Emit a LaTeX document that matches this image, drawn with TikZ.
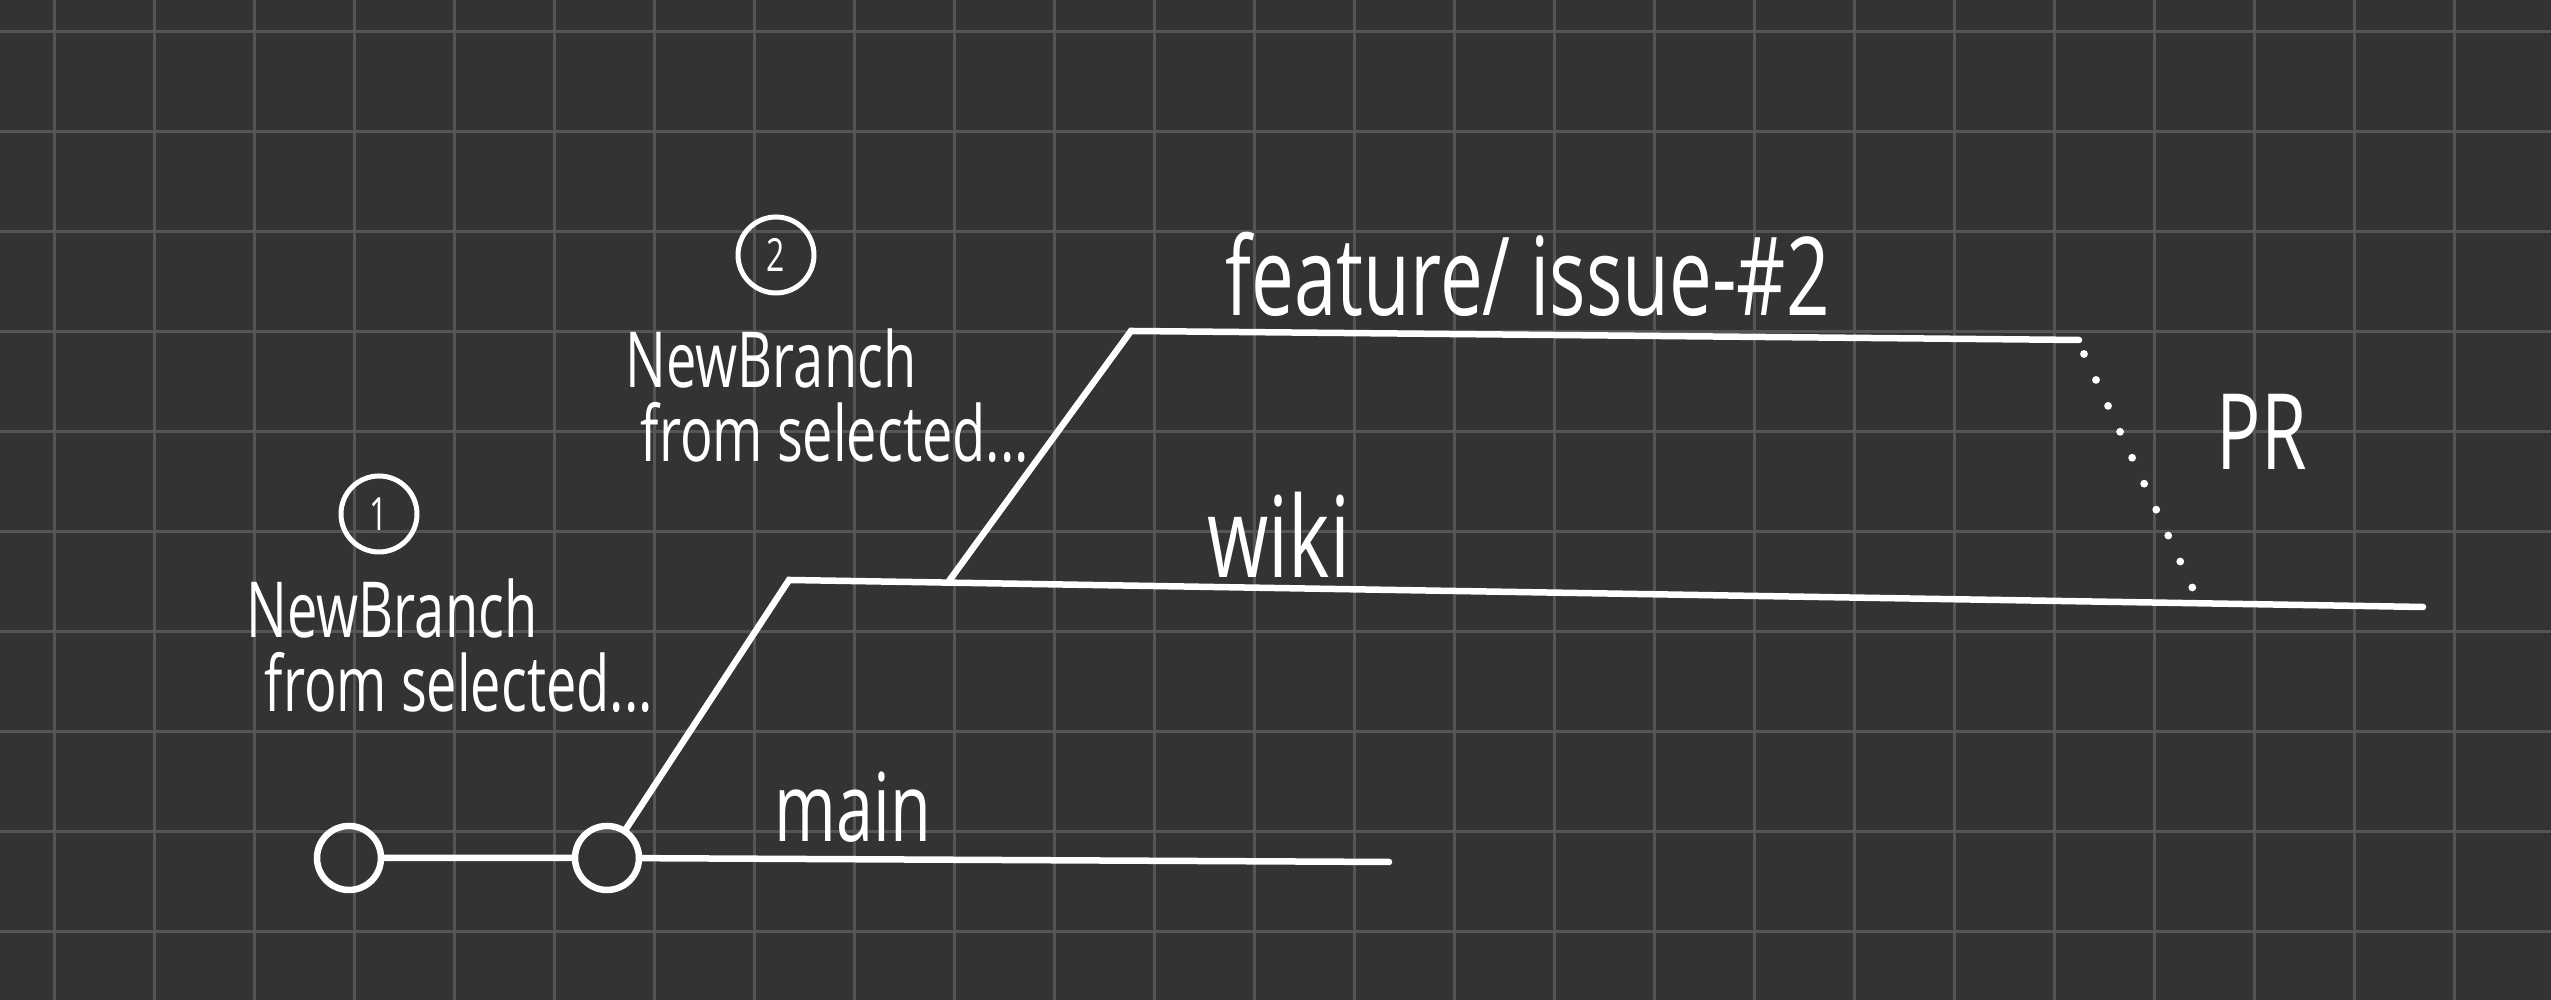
\documentclass[tikz,border=0pt]{standalone}
\usepackage{fontspec}
\usetikzlibrary{positioning}
\newfontfamily\handfont[FakeStretch=0.7]{Open Sans}
\definecolor{boardbg}{RGB}{51,51,51}
\definecolor{boardgrid}{RGB}{85,85,85}
\tikzset{
  gridline/.style={draw=boardgrid, line width=0.03cm},
  branch/.style={draw=white, line width=0.065cm, line cap=round},
  commit/.style={circle, draw=white, line width=0.065cm, minimum size=0.64cm, inner sep=0pt},
  stepmark/.style={circle, draw=white, line width=0.05cm, minimum size=0.76cm, inner sep=0pt, text=white, font={\handfont\fontsize{13}{15}\selectfont}},
  note/.style={text=white, inner sep=0pt, align=left, anchor=north west, font={\handfont\fontsize{22}{21}\selectfont}},
  branchname/.style={text=white, inner sep=0pt, anchor=base west},
  prline/.style={draw=white, line width=0.078cm, line cap=round, dash pattern=on 0pt off 0.286cm}
}
\begin{document}
\begin{tikzpicture}
\fill[boardbg] (0,0) rectangle (25.51,10);
\useasboundingbox (0,0) rectangle (25.51,10);
\foreach \x in {0,...,24} \draw[gridline] (0.545+\x,0)--(0.545+\x,10);
\foreach \y in {0,...,9} \draw[gridline] (0,0.683+\y)--(25.51,0.683+\y);
\node[commit] (c1) at (3.49,1.42) {};
\node[commit] (c2) at (6.07,1.42) {};
\coordinate (mainend) at (13.89,1.38);
\coordinate (wikibend) at (7.89,4.20);
\coordinate (wikiend) at (24.23,3.93);
\coordinate (featfork) at (9.49,4.19);
\coordinate (featbend) at (11.31,6.69);
\coordinate (featend) at (20.79,6.60);
\coordinate (prtop) at (20.84,6.46);
\coordinate (prbot) at (21.93,4.11);
\draw[branch] (c1)--(c2)--(mainend); \draw[branch] (c2)--(wikibend)--(wikiend);
\draw[branch] (featfork)--(featbend)--(featend); \draw[prline] (prtop)--(prbot);
\node[stepmark] (step1) at (3.79,4.86) {1};
\node[note] (note1) at (2.46,4.22) {NewBranch\\\hspace*{0.18cm}from selected...};
\node[stepmark] (step2) at (7.76,7.45) {2};
\node[note] (note2) at (6.25,6.72) {NewBranch\\\hspace*{0.15cm}from selected...};
\node[branchname, font={\handfont\fontsize{27}{27}\selectfont}] (mainname) at (7.74,1.58) {main};
\node[branchname, font={\handfont\fontsize{32}{32}\selectfont}] (wikiname) at (12.07,4.22) {wiki};
\node[branchname, font={\handfont\fontsize{31}{31}\selectfont}] (featname) at (12.25,6.84) {feature/ issue-\#2};
\node[branchname, font={\handfont\fontsize{30}{30}\selectfont}] (prname) at (22.16,5.30) {PR};
\end{tikzpicture}
\end{document}
